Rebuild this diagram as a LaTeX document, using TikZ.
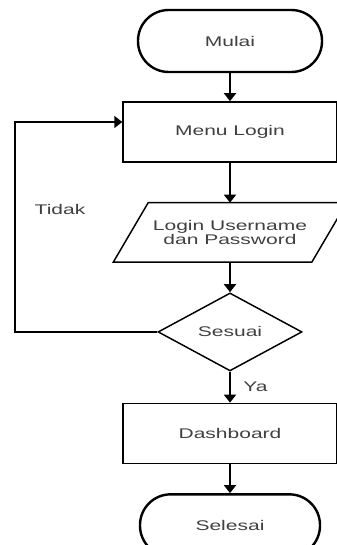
\documentclass[tikz,border=0pt]{standalone}
\usepackage{fontspec}
\newfontfamily\flowfont{Liberation Sans}[FakeStretch=1.5]
\usetikzlibrary{arrows.meta, positioning, shapes.geometric}

\begin{document}
\begin{tikzpicture}[
        x=0.75pt, y=-0.75pt,
        every node/.style={align=center, text=black!75, font=\flowfont\fontsize{10.5pt}{11pt}\selectfont},
        terminal/.style={draw, line width=1.8pt, rounded corners=23pt, minimum width=138pt, minimum height=46.5pt},
        process/.style={draw, line width=1.1pt, minimum width=160.5pt, minimum height=45pt},
        io/.style={minimum width=148.5pt, minimum height=44.25pt, inner sep=0pt},
        decision/.style={draw, line width=1.1pt, diamond, shape aspect=1.8, minimum width=108pt, minimum height=58.5pt, inner sep=0pt},
        flow/.style={-{Triangle[width=9pt,length=6pt]}, line width=1.4pt}
        ]
        \useasboundingbox (0,0) rectangle (336,545);

        % Nodes
        \node[terminal] (mulai) at (230,41) {Mulai};
        \node[process, below=21pt of mulai] (menu) {Menu Login};
        \node[io, below=30pt of menu] (input) {Login Username\\dan Password};
        \node[decision, below=22.5pt of input] (sesuai) {Sesuai};
        \node[process, below=23.25pt of sesuai] (dashboard) {Dashboard};
        \node[terminal, below=21.75pt of dashboard, minimum width=135pt] (selesai) {Selesai};
        \coordinate (back) at (15,122);
        \node (tidak) at (60,209) {Tidak};

        % parallelogram round the input node
        \draw[line width=1.1pt] ([xshift=-13.1pt]input.south west) -- ([xshift=-13.1pt]input.south east)
            -- ([xshift=13.1pt]input.north east) -- ([xshift=13.1pt]input.north west) -- cycle;

        % Arrows
        \draw[flow] (mulai) -- (menu);
        \draw[flow] (menu) -- (input);
        \draw[flow] (input) -- (sesuai);
        \draw[flow] (sesuai) -- node[right=6pt] {Ya} (dashboard);
        \draw[flow] (dashboard) -- (selesai);
        \draw[flow] (sesuai.west) -| (back) -- (menu.west |- back);

\end{tikzpicture}
\end{document}
